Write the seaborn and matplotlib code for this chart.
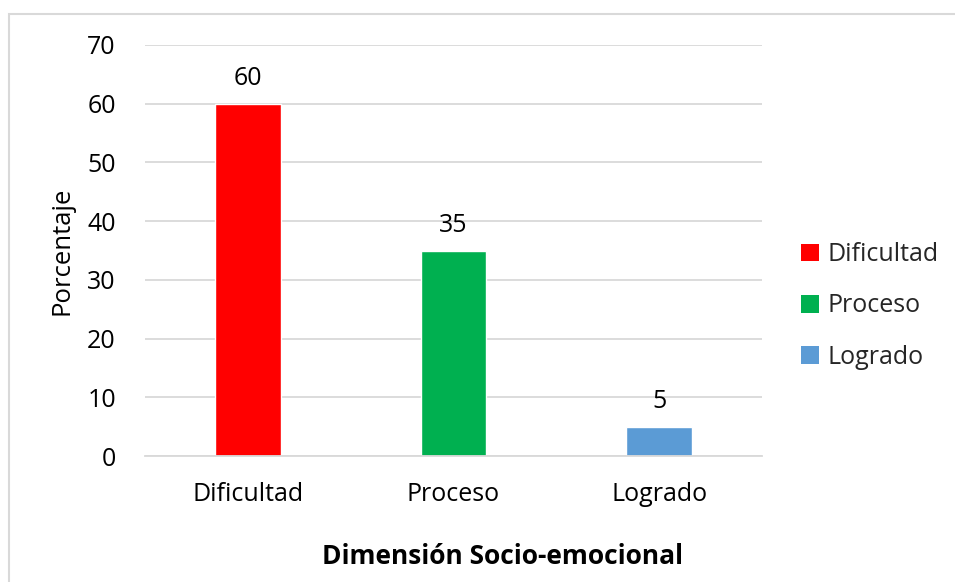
import matplotlib
matplotlib.use("Agg")
import matplotlib.pyplot as plt
from matplotlib.patches import Rectangle, Patch
import seaborn as sns
import pandas as pd

categories = ["Dificultad", "Proceso", "Logrado"]
values = [60, 35, 5]
colors = ["#FF0000", "#00B050", "#5B9BD5"]
yticks = [0, 10, 20, 30, 40, 50, 60, 70]

sns.set_theme(style="white")
plt.rcParams["font.family"] = ["Open Sans", "DejaVu Sans"]

df = pd.DataFrame({"cat": categories, "val": values})

fig = plt.figure(figsize=(9.55, 5.82), dpi=100)
# outer chart border (only top/left visible in reference)
fig.patches.append(Rectangle((9 / 955, -0.1), 1.2, (582 - 14) / 582 + 0.1,
                             transform=fig.transFigure, fill=False,
                             edgecolor="#d9d9d9", linewidth=1.5, zorder=0))

ax = fig.add_axes([145 / 955, (582 - 456) / 582, (762 - 145) / 955, (456 - 45) / 582])
sns.barplot(data=df, x="cat", y="val", hue="cat", palette=colors, order=categories,
            hue_order=categories, width=0.32, dodge=False, legend=False, ax=ax,
            saturation=1)

ax.set_ylim(0, 70)
ax.set_xlim(-0.5, 2.5)
ax.set_yticks(yticks)
ax.yaxis.grid(True, color="#d9d9d9", linewidth=1.3)
ax.set_axisbelow(True)
for s in ["top", "right", "left"]:
    ax.spines[s].set_visible(False)
ax.spines["bottom"].set_color("#d9d9d9")
ax.spines["bottom"].set_linewidth(1.3)
ax.tick_params(axis="both", length=0, labelsize=18, colors="#000000")
ax.tick_params(axis="y", pad=21)
ax.tick_params(axis="x", pad=19)

for i, v in enumerate(values):
    ax.annotate(f"{v}", (i, v), xytext=(0, 13.5), textcoords="offset points",
                ha="center", va="baseline", fontsize=18, color="#000000")

ax.set_ylabel("Porcentaje", fontsize=18.5, color="#000000", labelpad=9)
ax.set_xlabel("Dimensión Socio-emocional", fontsize=19, fontweight="bold",
              color="#000000")
ax.xaxis.set_label_coords((502 - 145) / 617, (456 - 556) / 411)
ax.xaxis.label.set_verticalalignment("center")

handles = [Patch(facecolor=c, edgecolor="none") for c in colors]
fig.legend(handles, categories, loc="center left",
           bbox_to_anchor=(801 / 955, (582 - 306) / 582), frameon=False,
           fontsize=18, handlelength=0.7, handleheight=0.7, handletextpad=0.35,
           labelspacing=1.05, borderaxespad=0, borderpad=0)

fig.savefig("out.png", dpi=100)
